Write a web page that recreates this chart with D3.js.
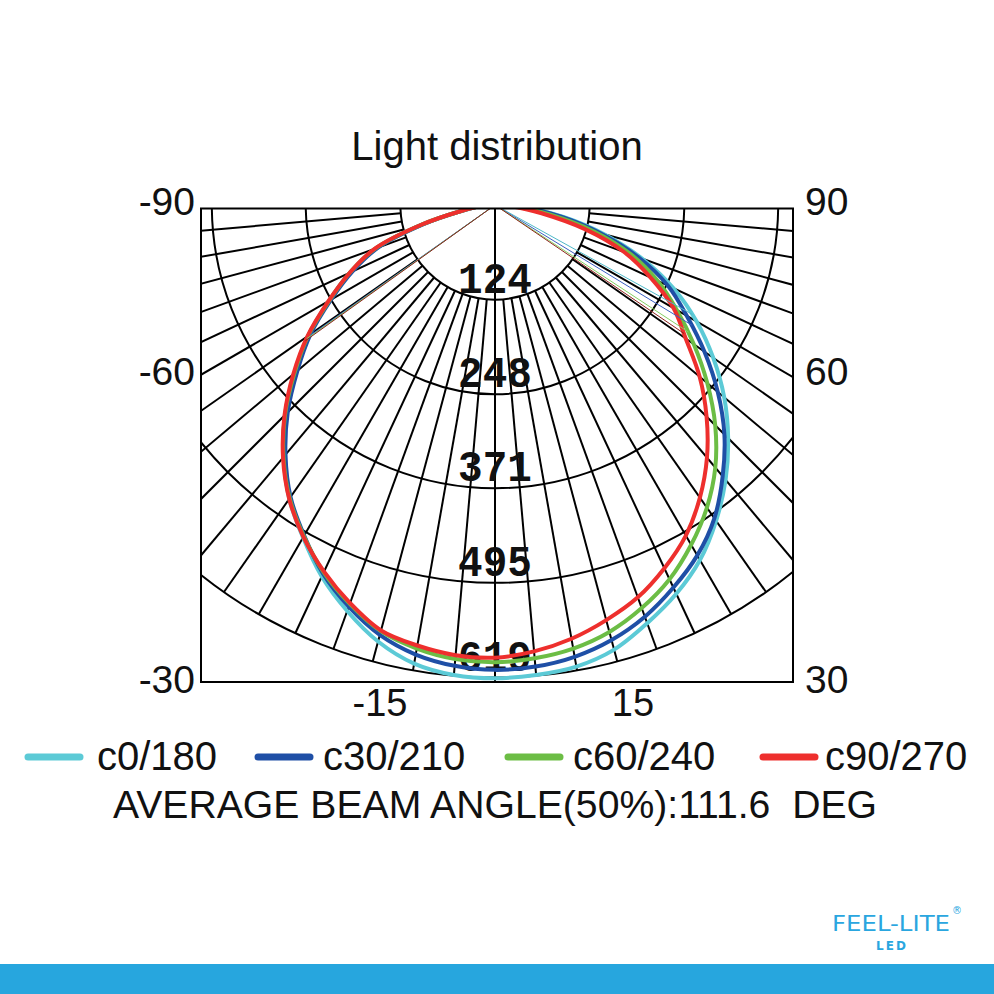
<!DOCTYPE html>
<html>
<head>
<meta charset="utf-8">
<script src="https://cdn.jsdelivr.net/npm/d3@7"></script>
<style>
  html, body { margin: 0; padding: 0; background: #fff; }
  svg { display: block; }
</style>
</head>
<body>
<svg id="chart" width="994" height="994"></svg>
<script>
// ---------- data ----------
const angles = [-90,-85,-80,-75,-70,-65,-60,-55,-50,-45,-40,-35,-30,-25,-20,-15,-10,-5,0,5,10,15,20,25,30,35,40,45,50,55,60,65,70,75,80,85,90];
const c0_180   = [0,20,45,99,165,209,251,298,341,387,430,470,503,537,566,592,610,618,620,618,614,603,583,562,537,505,470,432,392,349,305,258,205,148,92,42,0];
const c30_210  = [0,20,44,97,163,206,248,295,338,384,427,467,500,533,560,583,598,606,609,607,601,590,574,553,530,501,464,425,381,335,290,250,200,143,88,38,0];
const c60_240  = [0,20,45,100,167,210,251,299,343,389,431,469,501,531,556,578,590,597,599,596,590,579,562,541,514,484,449,408,363,318,275,235,190,135,75,30,0];
const c90_270  = [0,20,45,100,168,210,252,300,345,390,432,470,502,530,555,577,586,592,593,587,577,563,547,525,500,468,432,392,350,305,270,225,180,122,62,25,0];
const seriesNames = ["c0/180","c30/210","c60/240","c90/270"];
const seriesColors = ["#5ccad6","#1f4fa6","#6cbd45","#ee2f2d"];
const beamColors = ["#4fb8c8","#3a5fc0","#86cf63","#8e231c"];
const beamLeft  = [-54.6,-54.8,-54.6,-54.4];
const beamRight = [61.0,58.6,56.7,55.8];
const ringValues = [124,248,371,495,619];
const ringLabels = ["124","248","371","495","619"];
const sideLabelsLeft = ["-90","-60","-30"];
const sideLabelsRight = ["90","60","30"];
const bottomLabels = ["-15","15"];
const titleText = "Light distribution";
const beamText = "AVERAGE BEAM ANGLE(50%):111.6  DEG";

// ---------- layout ----------
const svg = d3.select("#chart");
const W = 994, H = 994;
const cx = 495, cy = 205;
const frame = {x0: 201, y0: 208.5, x1: 793, y1: 682};
const r = d3.scaleLinear().domain([0, 619]).range([0, 472.5]);
const toRad = d => d * Math.PI / 180;
const px = (deg, v) => cx + r(v) * Math.sin(toRad(deg));
const py = (deg, v) => cy + r(v) * Math.cos(toRad(deg));
const labFont = "Liberation Sans, Arial, sans-serif";

svg.append("rect").attr("width", W).attr("height", H).attr("fill", "#fff");

// title
svg.append("text").attr("x", 497).attr("y", 160).attr("text-anchor", "middle")
  .attr("font-family", labFont).attr("font-size", 40)
  .attr("fill", "#111").text(titleText);

// clip
svg.append("defs").append("clipPath").attr("id", "frameClip")
  .append("rect").attr("x", frame.x0).attr("y", frame.y0)
  .attr("width", frame.x1 - frame.x0).attr("height", frame.y1 - frame.y0);

const plot = svg.append("g").attr("clip-path", "url(#frameClip)");

// rings
plot.selectAll("circle.ring").data(ringValues).join("circle")
  .attr("class", "ring").attr("cx", cx).attr("cy", cy).attr("r", d => r(d))
  .attr("fill", "none").attr("stroke", "#000").attr("stroke-width", 2);

// spokes every 5 deg
const spokeAngles = d3.range(-85, 90, 5).filter(a => a !== 0);
plot.selectAll("line.spoke").data(spokeAngles).join("line")
  .attr("class", "spoke")
  .attr("x1", a => px(a, ringValues[0])).attr("y1", a => py(a, ringValues[0]))
  .attr("x2", a => px(a, ringValues[4])).attr("y2", a => py(a, ringValues[4]))
  .attr("stroke", "#000").attr("stroke-width", 2);
// 0-degree axis
plot.append("line").attr("x1", cx).attr("y1", cy).attr("x2", cx).attr("y2", frame.y1)
  .attr("stroke", "#000").attr("stroke-width", 2);

// ring labels
plot.selectAll("text.ringlab").data(ringValues).join("text")
  .attr("class", "ringlab")
  .attr("transform", d => `translate(${cx},${cy + r(d) - 7}) scale(1,1.1)`)
  .attr("text-anchor", "middle").attr("font-family", "Liberation Mono, Courier New, monospace")
  .attr("font-weight", "bold").attr("font-size", 41).attr("fill", "#111")
  .text((d, i) => ringLabels[i]);

// curves
const allSeries = [c0_180, c30_210, c60_240, c90_270];
const line = d3.line().x(d => px(d[0], d[1])).y(d => py(d[0], d[1])).curve(d3.curveCatmullRom.alpha(0.5));
const interp = (vals, deg) => {
  const i = d3.bisectLeft(angles, deg);
  if (angles[i] === deg) return vals[i];
  const a0 = angles[i-1], a1 = angles[i];
  const t = (deg - a0) / (a1 - a0);
  return vals[i-1] + t * (vals[i] - vals[i-1]);
};

allSeries.forEach((vals, si) => {
  const pts = angles.map((a, i) => [a, vals[i]]);
  plot.append("path").datum(pts).attr("d", line)
    .attr("fill", "none").attr("stroke", seriesColors[si]).attr("stroke-width", 4)
    .attr("stroke-linejoin", "round");
});
allSeries.forEach((vals, si) => {
  [beamLeft[si], beamRight[si]].forEach(deg => {
    const v = interp(vals, deg);
    plot.append("line").attr("x1", cx).attr("y1", cy)
      .attr("x2", px(deg, v)).attr("y2", py(deg, v))
      .attr("stroke", beamColors[si]).attr("stroke-width", 1);
  });
});

// frame
svg.append("rect").attr("x", frame.x0).attr("y", frame.y0)
  .attr("width", frame.x1 - frame.x0).attr("height", frame.y1 - frame.y0)
  .attr("fill", "none").attr("stroke", "#000").attr("stroke-width", 2);

// side labels
const sideY = [215, 385, 693];
svg.selectAll("text.sl").data(sideLabelsLeft).join("text").attr("class", "sl")
  .attr("x", 195).attr("y", (d, i) => sideY[i]).attr("text-anchor", "end")
  .attr("font-family", labFont).attr("font-size", 39).attr("fill", "#111").text(d => d);
svg.selectAll("text.sr").data(sideLabelsRight).join("text").attr("class", "sr")
  .attr("x", 805).attr("y", (d, i) => sideY[i]).attr("text-anchor", "start")
  .attr("font-family", labFont).attr("font-size", 39).attr("fill", "#111").text(d => d);
const bottomX = [380, 633];
svg.selectAll("text.bl").data(bottomLabels).join("text").attr("class", "bl")
  .attr("x", (d, i) => bottomX[i]).attr("y", 716).attr("text-anchor", "middle")
  .attr("font-family", labFont).attr("font-size", 38).attr("fill", "#111").text(d => d);

// legend
const legendSwatchX = [25, 255, 505, 760];
const legendTextX = [97, 323, 573, 825];
seriesNames.forEach((name, i) => {
  svg.append("line").attr("x1", legendSwatchX[i] + 3).attr("x2", legendSwatchX[i] + 55)
    .attr("y1", 757).attr("y2", 757).attr("stroke", seriesColors[i])
    .attr("stroke-width", 7).attr("stroke-linecap", "round");
  svg.append("text").attr("x", legendTextX[i]).attr("y", 770)
    .attr("font-family", labFont).attr("font-size", 40).attr("fill", "#111").text(name);
});

svg.append("text").attr("x", 113).attr("y", 818)
  .attr("font-family", labFont).attr("font-size", 38).attr("fill", "#111")
  .attr("textLength", 764).attr("lengthAdjust", "spacingAndGlyphs")
  .attr("xml:space", "preserve").style("white-space", "pre").text(beamText);

// logo
svg.append("text").attr("x", 832).attr("y", 931)
  .attr("font-family", "DejaVu Sans, sans-serif").attr("font-size", 21)
  .attr("textLength", 118).attr("lengthAdjust", "spacingAndGlyphs")
  .attr("fill", "#2aa6df").text("FEEL-LITE");
svg.append("text").attr("x", 892).attr("y", 950).attr("text-anchor", "middle")
  .attr("font-family", "DejaVu Sans, sans-serif").attr("font-weight", "bold").attr("font-size", 12)
  .attr("letter-spacing", 2).attr("fill", "#2aa6df").text("LED");
svg.append("text").attr("x", 957).attr("y", 914).attr("text-anchor", "middle")
  .attr("font-family", "DejaVu Sans, sans-serif").attr("font-size", 10)
  .attr("fill", "#2aa6df").text("®");

svg.append("rect").attr("x", 0).attr("y", 964).attr("width", W).attr("height", H - 964)
  .attr("fill", "#27a6de");
</script>
</body>
</html>
